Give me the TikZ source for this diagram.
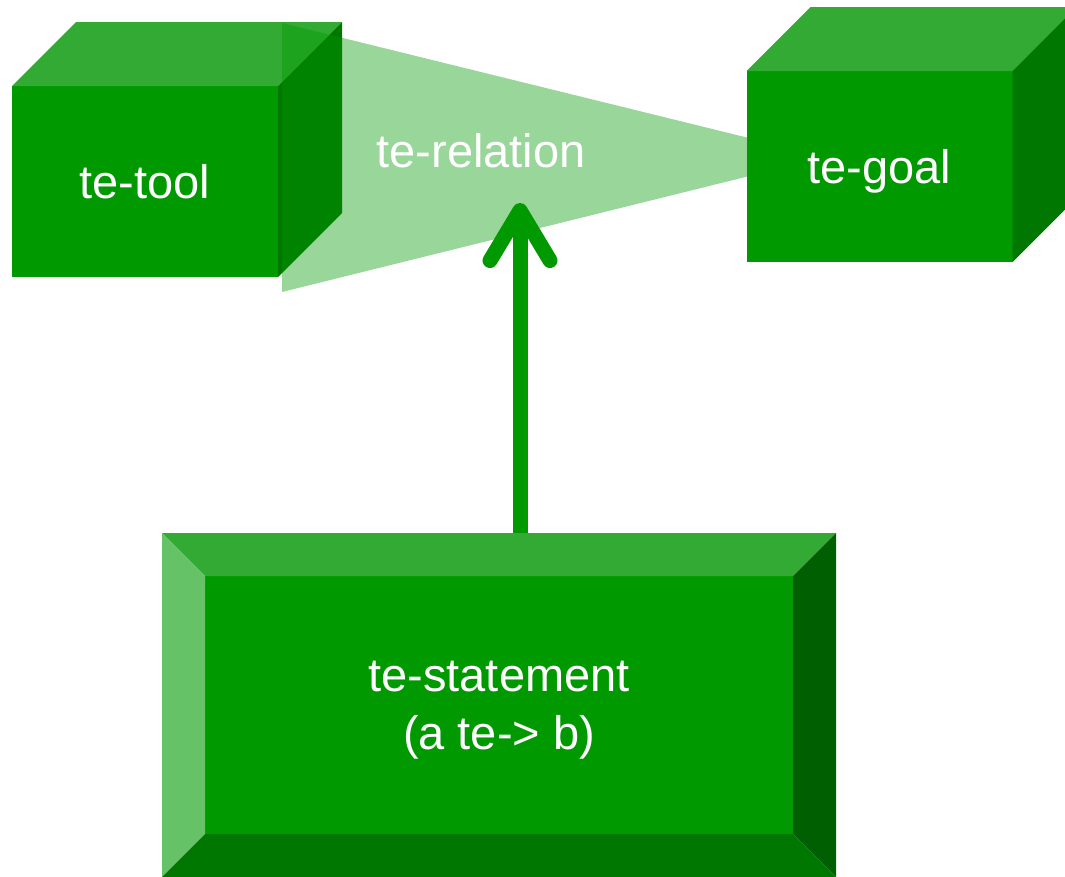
\documentclass[tikz,border=0pt]{standalone}
\usepackage{fontspec}
\setmainfont{Liberation Sans}
\usepackage{tikz}
\usetikzlibrary{arrows.meta, positioning}
\definecolor{teface}{HTML}{009900}
\definecolor{tetop}{HTML}{33AA33}
\definecolor{teside}{HTML}{007700}
\definecolor{tebevelleft}{HTML}{66C266}
\definecolor{tebevelright}{HTML}{005F00}
\tikzstyle{cube} = [rectangle, minimum width=266pt, minimum height=191pt, inner sep=0pt, outer sep=0pt, fill=teface, text=white, text depth=0pt, font=\fontsize{47}{58}\selectfont]
\tikzstyle{cubetop} = [fill=tetop]
\tikzstyle{cubeside} = [fill=teside]
\tikzstyle{wedge} = [fill=teface, fill opacity=0.4]
\tikzstyle{reltext} = [text=white, inner sep=0pt, font=\fontsize{47}{58}\selectfont]
\tikzstyle{stmt} = [rectangle, minimum width=588pt, minimum height=258pt, inner sep=0pt, outer sep=0pt, fill=teface, text=white, align=center, text depth=0pt, font=\fontsize{47}{58}\selectfont]
\tikzstyle{arrow} = [-{Straight Barb[round, length=50pt, width=60pt]}, line width=15pt, draw=teface]

\begin{document}
\begin{tikzpicture}[x=1pt, y=-1pt]
    \useasboundingbox (0, 0) rectangle (1065, 876);

    % te-tool
    \node (tool) [cube] at (145, 181.5) {te-tool};
    \fill [cubetop] (tool.north west) -- ++(64, -64) -- ++(266, 0) -- (tool.north east) -- cycle;
    \fill [cubeside] (tool.north east) -- ++(64, -64) -- ++(0, 191) -- (tool.south east) -- cycle;

    % relation
    \fill [wedge] (282, 23) -- (826, 157) -- (282, 292) -- cycle;
    \node (relation) [reltext] at (481, 151) {te-relation};
    \coordinate (relIn) at (520, 203);

    % te-goal
    \node (goal) [cube] at (879.5, 166.5) {te-goal};
    \fill [cubetop] (goal.north west) -- ++(64, -64) -- ++(267, 0) -- (goal.north east) -- cycle;
    \fill [cubeside] (goal.north east) -- ++(64, -64) -- ++(0, 191) -- (goal.south east) -- cycle;

    % te-statement
    \node (statement) [stmt] at (499, 705) {te-statement\\(a te-> b)};
    \fill [tetop] (statement.north west) -- ++(-43, -43) -- ++(674, 0) -- (statement.north east) -- cycle;
    \fill [tebevelleft] (statement.north west) -- ++(-43, -43) -- ++(0, 344) -- (statement.south west) -- cycle;
    \fill [tebevelright] (statement.north east) -- ++(43, -43) -- ++(0, 344) -- (statement.south east) -- cycle;
    \fill [teside] (statement.south west) -- ++(-43, 43) -- ++(674, 0) -- (statement.south east) -- cycle;

    \draw [arrow, shorten <=43pt] (relIn |- statement.north) -- (relIn);

\end{tikzpicture}
\end{document}
